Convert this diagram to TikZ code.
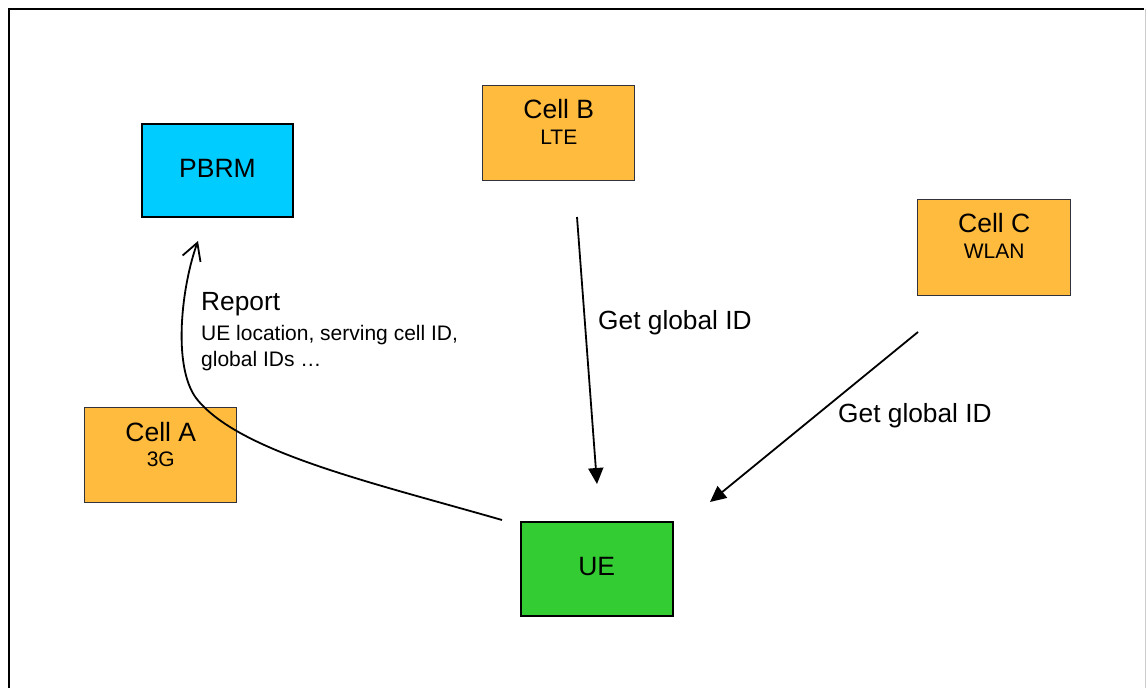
\documentclass[tikz,border=0pt]{standalone}
\usepackage{fontspec}
\setmainfont{Liberation Sans}
\usetikzlibrary{arrows.meta,calc}
\definecolor{cellorange}{RGB}{255,187,61}
\definecolor{pbrmcyan}{RGB}{0,204,255}
\definecolor{uegreen}{RGB}{51,204,51}
\definecolor{celledge}{RGB}{50,50,60}
\tikzset{
  cellbox/.style={draw=celledge, line width=1pt, fill=cellorange, inner sep=0pt,
    minimum width=152pt, minimum height=95pt},
  mainbox/.style={draw=black, line width=2pt, inner sep=0pt,
    minimum width=151pt, minimum height=93pt},
  bigtxt/.style={font=\fontsize{26.5}{30}\selectfont, anchor=base, inner sep=0pt},
  titletxt/.style={font=\fontsize{26.5}{30}\selectfont, anchor=base, inner sep=0pt},
  subtxt/.style={font=\fontsize{21}{24}\selectfont, anchor=base, inner sep=0pt},
  msgtxt/.style={font=\fontsize{26.3}{30}\selectfont, anchor=base west, inner sep=0pt},
  msg/.style={line width=1.8pt, -{Triangle[length=16pt,width=15pt]}},
  reportmsg/.style={line width=1.8pt, -{Straight Barb[length=17pt,width=19pt,line width=1.8pt]}},
}
\begin{document}
\begin{tikzpicture}[x=1pt,y=-1pt]
\useasboundingbox (0,0) rectangle (1146,688);
% outer frame
\draw[line width=2pt] (8.5,688) -- (8.5,8.5) -- (1144,8.5);
\draw[line width=1pt, black!20] (1145,8.5) -- (1145,688);

% entities
\node[mainbox, fill=pbrmcyan] (pbrm) at (217.5,170.5) {};
\node[bigtxt] (pbrmlbl) at ($(pbrm.center)+(0,7)$) {PBRM};

\node[mainbox, fill=uegreen, minimum width=152pt, minimum height=94pt] (ue) at (596.7,568.8) {};
\node[bigtxt] (uelbl) at ($(ue.center)+(0,6.5)$) {UE};

\node[cellbox] (cb) at (558.8,133.2) {};
\node[titletxt] (cbt) at ($(cb.north)+(0,33.5)$) {Cell B};
\node[subtxt] (cbs) at ($(cb.north)+(0,59.5)$) {LTE};

\node[cellbox] (ca) at (160.8,454.8) {};
\node[titletxt] (cat) at ($(ca.north)+(0,34.5)$) {Cell A};
\node[subtxt] (cas) at ($(ca.north)+(0,59.5)$) {3G};

\node[cellbox, minimum width=153pt, minimum height=96pt] (cc) at (994.2,247.2) {};
\node[titletxt] (cct) at ($(cc.north)+(0,34)$) {Cell C};
\node[subtxt] (ccs) at ($(cc.north)+(0,60)$) {WLAN};

% connector end points
\coordinate (bfrom) at (577,217);
\coordinate (bto) at (597,484);
\coordinate (cfrom) at (918,332);
\coordinate (cto) at (710,502);
\coordinate (rfrom) at (502,520);
\coordinate (rbend) at (196,398);
\coordinate (rto) at (198,241);

\draw[msg] (bfrom) -- (bto);
\draw[msg] (cfrom) -- (cto);
\draw[reportmsg] (rfrom) .. controls (370,482) and (238,452) .. (rbend)
  .. controls (172,365) and (182,285) .. (rto);

% labels
\node[msgtxt] (lblb) at (598,329) {Get global ID};
\node[msgtxt] (lblc) at (838,422) {Get global ID};
\node[msgtxt] (rep) at (201,310) {Report};
\node[subtxt, anchor=base west] (rep1) at (201,340) {UE location, serving cell ID,};
\node[subtxt, anchor=base west] (rep2) at (201,366) {global IDs …};
\end{tikzpicture}
\end{document}
